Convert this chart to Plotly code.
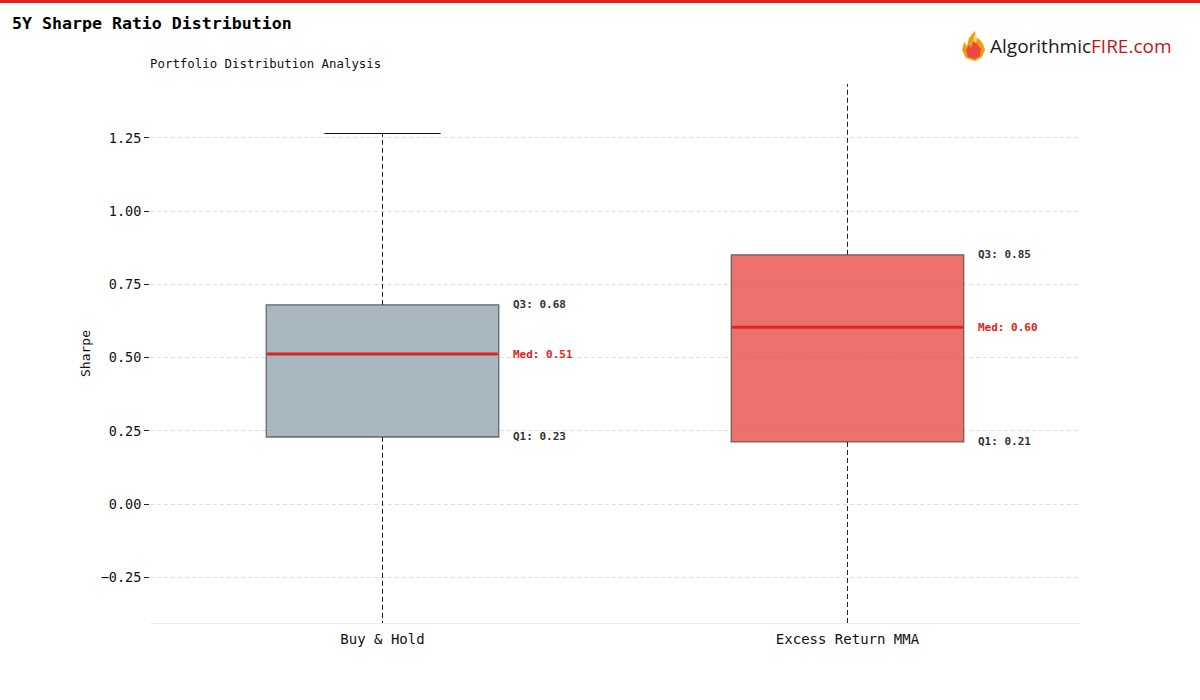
import plotly.graph_objects as go

# ---- data ----
categories = ["Buy & Hold", "Excess Return MMA"]
q1_vals = [0.229, 0.212]
median_vals = [0.512, 0.604]
q3_vals = [0.680, 0.851]
lower_whisker = [-0.62, -0.70]
upper_whisker = [1.265, 1.62]
y_ticks = [-0.25, 0.0, 0.25, 0.5, 0.75, 1.0, 1.25]

fill_colors = ["rgba(148,166,176,0.8)", "rgba(231,76,70,0.8)"]
MONO = "DejaVu Sans Mono"
RED = "#e2231a"

W, H = 1200, 700
L, R, T, B = 150, 120, 84, 77
PW, PH = W - L - R, H - T - B


def px(x):
    return (x - L) / PW


def py(y):
    return (H - B - y) / PH


fig = go.Figure()
box_w = 0.5
cap_w = 0.25

for i, cat in enumerate(categories):
    fig.add_trace(go.Box(
        x=[i], q1=[q1_vals[i]], median=[median_vals[i]], q3=[q3_vals[i]],
        lowerfence=[q1_vals[i]], upperfence=[q3_vals[i]],
        width=box_w, whiskerwidth=0,
        fillcolor=fill_colors[i],
        line=dict(color="rgba(85,85,85,0.85)", width=1.3),
        showlegend=False, hoverinfo="skip",
    ))
    # whiskers
    for a, b in [(q3_vals[i], upper_whisker[i]), (q1_vals[i], lower_whisker[i])]:
        fig.add_trace(go.Scatter(
            x=[i, i], y=[a, b], mode="lines",
            line=dict(color="#222222", width=1, dash="5px,3px"),
            showlegend=False, hoverinfo="skip",
        ))
    # caps
    for v in [upper_whisker[i], lower_whisker[i]]:
        fig.add_trace(go.Scatter(
            x=[i - cap_w / 2, i + cap_w / 2], y=[v, v], mode="lines",
            line=dict(color="#111111", width=1.2),
            showlegend=False, hoverinfo="skip",
        ))
    # median
    fig.add_trace(go.Scatter(
        x=[i - box_w / 2 + 0.002, i + box_w / 2 - 0.002], y=[median_vals[i], median_vals[i]],
        mode="lines", line=dict(color=RED, width=3),
        showlegend=False, hoverinfo="skip",
    ))
    # labels
    for lab, v, col in [("Q3", q3_vals[i], "#333333"), ("Med", median_vals[i], RED),
                        ("Q1", q1_vals[i], "#333333")]:
        fig.add_annotation(
            x=i + box_w / 2 + 0.026, y=v, xref="x", yref="y",
            text=f"<b>{lab}: {v:.2f}</b>", showarrow=False,
            xanchor="left", yanchor="middle",
            font=dict(family=MONO, size=11, color=col),
        )

# top red line
fig.add_shape(type="line", xref="paper", yref="paper",
              x0=px(0), x1=px(W), y0=py(1.5), y1=py(1.5),
              line=dict(color=RED, width=3))

# subtitle
fig.add_annotation(x=px(148), y=py(63), xref="paper", yref="paper",
                   text="Portfolio Distribution Analysis", showarrow=False,
                   xanchor="left", yanchor="middle",
                   font=dict(family=MONO, size=12.4, color="#111111"))

# logo text
fig.add_annotation(x=px(988), y=py(46), xref="paper", yref="paper",
                   text="Algorithmic<span style='color:#c4161c'>FIRE.com</span>",
                   showarrow=False, xanchor="left", yanchor="middle",
                   font=dict(family="Open Sans", size=19, color="#1a1a1a"))


# flame icon
def pth(pts):
    s = "M {} {}".format(px(pts[0][0]), py(pts[0][1]))
    for (x, y) in pts[1:]:
        s += " L {} {}".format(px(x), py(y))
    return s + " Z"


flame_outer = [(966, 58), (962, 50), (964, 42), (967, 46), (969, 38), (973, 33),
               (975, 31), (976, 37), (980, 40), (983, 44), (985, 50), (982, 57), (975, 61)]
flame_mid = [(968, 57), (966, 50), (969, 45), (971, 48), (974, 40), (977, 44),
             (981, 49), (980, 56), (975, 59)]
flame_inner = [(973, 41), (975, 33), (977, 38), (976, 43)]
for pts, col in [(flame_outer, "#f39c12"), (flame_mid, "#e74c3c"), (flame_inner, "#f7dc6f")]:
    fig.add_shape(type="path", xref="paper", yref="paper", path=pth(pts),
                  fillcolor=col, line=dict(width=0))

fig.update_layout(
    width=W, height=H,
    margin=dict(l=L, r=R, t=T, b=B),
    paper_bgcolor="white", plot_bgcolor="white",
    title=dict(text="<b>5Y Sharpe Ratio Distribution</b>", x=12 / W, xref="container",
               y=1 - 23 / H, yref="container", xanchor="left", yanchor="middle",
               font=dict(family=MONO, size=16.6, color="#000000")),
    xaxis=dict(range=[-0.5, 1.5], tickmode="array", tickvals=list(range(len(categories))),
               ticktext=categories, showgrid=False, zeroline=False,
               showline=True, linecolor="#eeeeee", linewidth=1, ticks="",
               ticklabelstandoff=3,
               tickfont=dict(family=MONO, size=14, color="#111111")),
    yaxis=dict(range=[-0.406, 1.434], tickmode="array", tickvals=y_ticks,
               tickformat=".2f", showgrid=True, gridcolor="#dddddd", griddash="4px,3px",
               gridwidth=1, zeroline=False, showline=False, ticks="outside",
               ticklen=5, tickcolor="#222222",
               tickfont=dict(family=MONO, size=13.5, color="#111111"),
               title=dict(text="Sharpe", font=dict(family=MONO, size=13, color="#111111"),
                          standoff=7)),
    showlegend=False,
)

fig.write_html("out.html", config={"displayModeBar": False},
               post_script="document.body.style.margin='0';")
